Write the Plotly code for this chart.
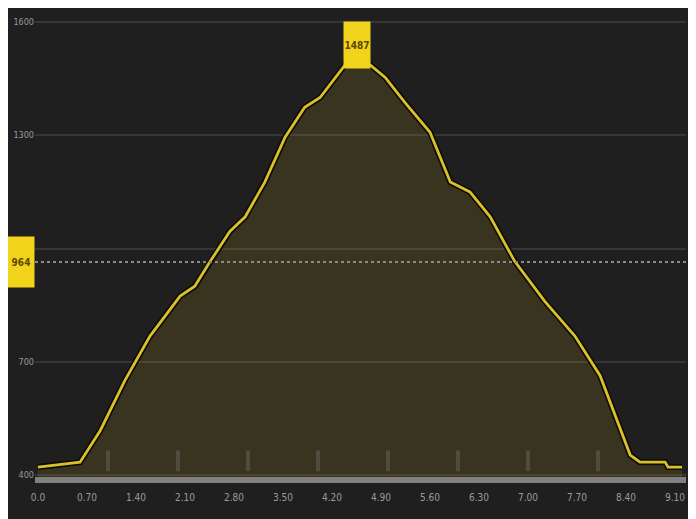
import plotly.graph_objects as go

# Elevation profile data (distance km, elevation m)
distance = [0.0, 0.6, 0.89, 1.24, 1.6, 2.03, 2.24, 2.46, 2.74, 2.96, 3.24, 3.53, 3.81, 4.03,
            4.39, 4.74, 4.96, 5.24, 5.6, 5.89, 6.17, 6.46, 6.81, 7.24, 7.67, 8.03, 8.46,
            8.6, 8.96, 9.0, 9.2]
elevation = [421, 434, 518, 650, 768, 874, 900, 966, 1045, 1084, 1176, 1295, 1374, 1400,
             1487, 1487, 1453, 1387, 1308, 1176, 1150, 1084, 966, 860, 768, 663, 453,
             434, 434, 421, 421]

x_tickvals = [0.0, 0.7, 1.4, 2.1, 2.8, 3.5, 4.2, 4.9, 5.6, 6.3, 7.0, 7.7, 8.4, 9.1]
x_ticktext = ["0.0", "0.70", "1.40", "2.10", "2.80", "3.50", "4.20", "4.90", "5.60",
              "6.30", "7.00", "7.70", "8.40", "9.10"]
y_tickvals = [400, 700, 1000, 1300, 1600]
y_ticktext = ["400", "700", "1000", "1300", "1600"]
km_markers = [1, 2, 3, 4, 5, 6, 7, 8]
mean_elev = 964
peak_label = "1487"
mean_label = "964"

BG = "#1f1f1f"
YEL = "#d8c12a"

fig = go.Figure()
fig.add_trace(go.Scatter(x=distance, y=elevation, mode="lines", fill="tozeroy",
                         fillcolor="rgba(180,150,40,0.18)",
                         line=dict(color="#0d0b05", width=6), hoverinfo="skip"))
fig.add_trace(go.Scatter(x=distance, y=elevation, mode="lines",
                         line=dict(color=YEL, width=2.8)))

shapes = []
for k in km_markers:
    shapes.append(dict(type="line", xref="x", yref="y", x0=k, x1=k, y0=410, y1=465,
                       line=dict(color="rgba(120,120,120,0.35)", width=4), layer="above"))
# mean line
shapes.append(dict(type="line", xref="paper", yref="y", x0=0, x1=1, y0=mean_elev, y1=mean_elev,
                   line=dict(color="#8a8a8a", width=2, dash="dot")))
# axis baseline
shapes.append(dict(type="line", xref="paper", yref="paper", x0=0, x1=1, y0=0, y1=0,
                   line=dict(color="#808080", width=6)))

annotations = [
    dict(x=4.56, y=1487, xref="x", yref="y", text="<b>" + peak_label + "</b>", showarrow=False,
         yanchor="bottom", yshift=-4, bgcolor="#f2d31b", font=dict(color="#5a4a00", size=10),
         width=26, height=46, borderpad=0),
    dict(x=0, y=mean_elev, xref="paper", yref="y", text="<b>" + mean_label + "</b>", showarrow=False,
         xanchor="right", xshift=0, bgcolor="#f2d31b", font=dict(color="#5a4a00", size=10),
         width=26, height=50, borderpad=0),
]

fig.update_layout(
    width=696, height=519,
    paper_bgcolor=BG, plot_bgcolor=BG,
    margin=dict(l=27, r=18, t=4, b=47, autoexpand=False),
    showlegend=False,
    shapes=shapes, annotations=annotations,
    font=dict(family="DejaVu Sans Condensed, Liberation Sans Narrow, Arial", color="#9a9a9a", size=10),
    xaxis=dict(range=[-0.043, 9.257], tickvals=x_tickvals, ticktext=x_ticktext, automargin=False,
               showgrid=False, zeroline=False, ticks="", ticklabelstandoff=10,
               tickfont=dict(size=10, color="#9a9a9a")),
    yaxis=dict(range=[386.8, 1626.5], tickvals=y_tickvals, ticktext=y_ticktext, automargin=False,
               showgrid=True, gridcolor="#363636", gridwidth=2, zeroline=False,
               ticks="", tickfont=dict(size=9, color="#9a9a9a")),
)

fig.write_html("out.html")
